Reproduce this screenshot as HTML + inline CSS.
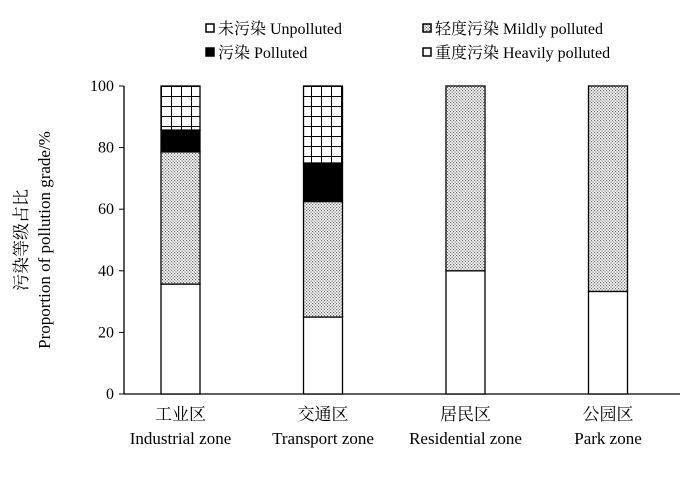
<!DOCTYPE html>
<html><head><meta charset="utf-8"><style>
body{margin:0;background:#fff;}
svg text{font-family:"Liberation Serif","Noto Serif CJK SC",serif;fill:#000;}
</style></head><body>
<svg width="700" height="475">
<defs>
<pattern id="dots" width="3" height="3" patternUnits="userSpaceOnUse"><rect width="3" height="3" fill="#fff"/><rect width="1.2" height="1.2" fill="#666"/><rect x="1.5" y="1.5" width="1.2" height="1.2" fill="#666"/></pattern>
<pattern id="grid" width="10" height="10" patternUnits="userSpaceOnUse" x="161" y="86"><rect width="10" height="10" fill="#fff"/><path d="M0 0H10M0 0V10" stroke="#000" stroke-width="2"/></pattern>
</defs>
<g id="legend">
<g><rect x="206" y="24" width="8" height="8" fill="#fff" stroke="#000" stroke-width="1.5"/><text x="218" y="34" font-size="16">未污染 Unpolluted</text></g>
<g><rect x="423" y="24" width="8" height="8" fill="url(#dots)" stroke="#000" stroke-width="1.5"/><text x="435" y="34" font-size="16">轻度污染 Mildly polluted</text></g>
<g><rect x="206" y="48" width="8" height="8" fill="#000" stroke="#000" stroke-width="1.5"/><text x="218" y="58" font-size="16">污染 Polluted</text></g>
<g><rect x="423" y="48" width="8" height="8" fill="#fff" stroke="#000" stroke-width="1.5"/><text x="435" y="58" font-size="16">重度污染 Heavily polluted</text></g>
</g>
<g id="axes"></g>
<g id="bars"></g>
<text transform="translate(27,240) rotate(-90)" text-anchor="middle" font-size="17">污染等级占比</text>
<text transform="translate(50,240) rotate(-90)" text-anchor="middle" font-size="17">Proportion of pollution grade/%</text>
</svg>
<script>
const categoriesCn=["工业区","交通区","居民区","公园区"];
const categoriesEn=["Industrial zone","Transport zone","Residential zone","Park zone"];
const unpolluted=[35.7,25,40,33.3];
const mildly=[42.9,37.5,60,66.7];
const polluted=[7.1,12.5,0,0];
const heavily=[14.3,25,0,0];
const yTicks=[0,20,40,60,80,100];
const NS="http://www.w3.org/2000/svg";
const y0=394,y1=86,xL=124,xR=680;
const y=v=>y0-(v/100)*(y0-y1);
const step=142.5;
const xc=i=>180.5+step*i;
function mk(tag,attrs,parent,txt){const e=document.createElementNS(NS,tag);for(const k in attrs)e.setAttribute(k,attrs[k]);if(txt!==undefined)e.textContent=txt;parent.appendChild(e);return e;}
const ax=document.getElementById('axes');
let e=mk('line',{x1:xL,y1:y0,x2:xR,y2:y0,stroke:'#000','stroke-width':1.3},ax);


e=mk('line',{x1:xL,y1:y0,x2:xL,y2:y1,stroke:'#000','stroke-width':1.3},ax);


yTicks.forEach(t=>{
 mk('line',{x1:xL-5,y1:y(t),x2:xL,y2:y(t),stroke:'#000'},ax);
 const l=mk('text',{x:xL-10,y:y(t)+5,'text-anchor':'end','font-size':16},ax,t);
 
 
});
const bars=document.getElementById('bars');
const series=[[unpolluted,'#fff','unpolluted'],[mildly,'url(#dots)','mildly'],[polluted,'#000','polluted'],[heavily,'url(#grid)','heavily']];
categoriesCn.forEach((c,i)=>{
 let acc=0;const cx=xc(i);
 series.forEach(([arr,fill,nm])=>{
  const v=arr[i];if(v<=0)return;
  const r=mk('rect',{x:cx-19.5,y:y(acc+v),width:39,height:y(acc)-y(acc+v),fill:fill,stroke:'#000','stroke-width':1.3},bars);
  
  
  acc+=v;
 });
 const t1=mk('text',{x:cx,y:420,'text-anchor':'middle','font-size':17},bars,c);
 
 
 const t2=mk('text',{x:cx,y:444,'text-anchor':'middle','font-size':17},bars,categoriesEn[i]);
 
 
});
</script>
</body></html>
